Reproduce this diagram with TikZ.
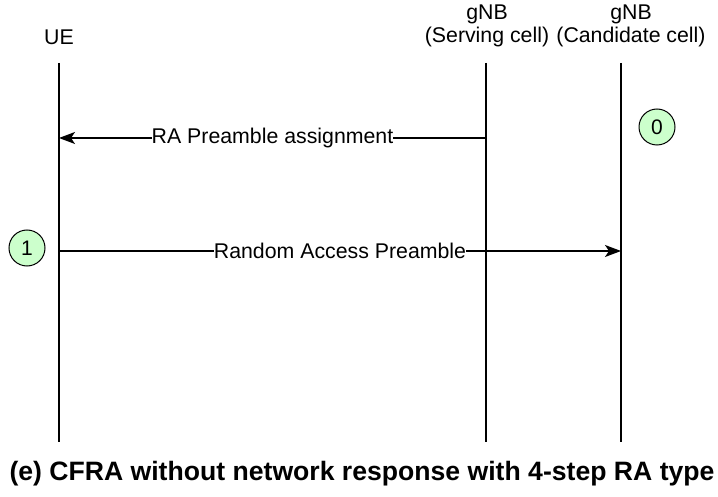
\documentclass[tikz,border=0pt]{standalone}
\usepackage{fontspec}
\setmainfont{Liberation Sans}
\usetikzlibrary{arrows.meta}
\definecolor{stepgreen}{RGB}{204,255,204}
\tikzset{
  lifeline/.style={line width=1.3pt},
  msg/.style={line width=1.3pt,-{Stealth[length=16pt,width=12pt,inset=4pt]}},
  msglabel/.style={fill=white,inner sep=0pt,font=\fontsize{21.3}{23}\selectfont},
  entity/.style={align=center,font=\fontsize{21.3}{23.5}\selectfont},
  stepnum/.style={circle,draw,line width=1pt,fill=stepgreen,minimum size=36pt,inner sep=0pt,font=\fontsize{21}{23}\selectfont}
}
\begin{document}
\begin{tikzpicture}[x=1pt,y=-1pt]
\useasboundingbox (0,0) rectangle (718,497);
\node[entity] (ue) at (59,37) {UE};
\node[entity] (serving) at (487,26) {gNB\\(Serving cell)};
\node[entity] (cand) at (631,26) {gNB\\(Candidate cell)};
\coordinate (ueTop) at (59,63);
\coordinate (ueBot) at (59,442);
\coordinate (servTop) at (486,63);
\coordinate (servBot) at (486,442);
\coordinate (candTop) at (621,63);
\coordinate (candBot) at (621,442);
\draw[lifeline] (ueTop) -- (ueBot);
\draw[lifeline] (servTop) -- (servBot);
\draw[lifeline] (candTop) -- (candBot);
\coordinate (assignFrom) at (486,138);
\coordinate (assignTo) at (59,138);
\coordinate (preambleFrom) at (59,251);
\coordinate (preambleTo) at (621,251);
\draw[msg] (assignFrom) -- node[msglabel] {RA Preamble assignment} (assignTo);
\draw[msg] (preambleFrom) -- node[msglabel] {Random Access Preamble} (preambleTo);
\node[stepnum] (stepzero) at (657,127) {0};
\node[stepnum] (stepone) at (27,248) {1};
\node[font=\bfseries\fontsize{26.6}{30}\selectfont] (caption) at (362,474) {(e) CFRA without network response with 4-step RA type};
\end{tikzpicture}
\end{document}
